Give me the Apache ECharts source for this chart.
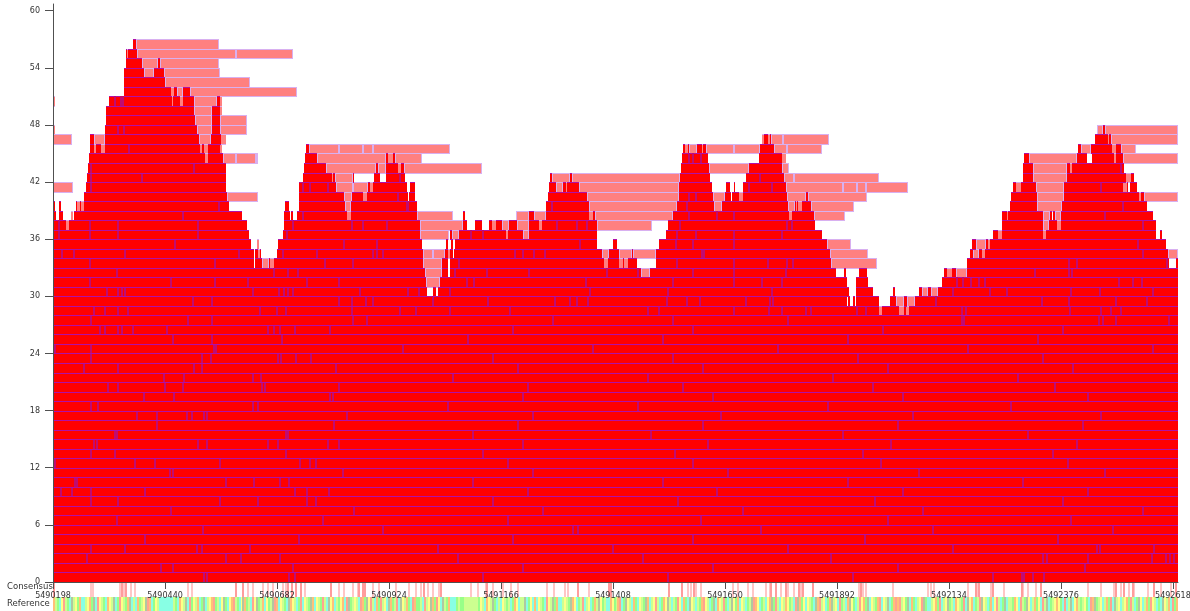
<!DOCTYPE html>
<html>
<head>
<meta charset="utf-8">
<title>Pileup</title>
<script src="https://cdn.jsdelivr.net/npm/echarts@6/dist/echarts.min.js"></script>
<style>
html,body{margin:0;padding:0;background:#fff;}
#main{width:1190px;height:611px;}
</style>
</head>
<body>
<div id="main"></div>
<script>
// genome window and tick values
var chromStart = 5490198;
var chromEnd = 5492629;
var basesPerCol = 2.1607;
var xTicks = [5490198,5490440,5490682,5490924,5491166,5491408,5491650,5491892,5492134,5492376,5492618];
var yTicks = [0,6,12,18,24,30,36,42,48,54,60];
var yMax = 60.7;

// reads per pile row, positions in alignment columns (one col = basesPerCol).
// a run [a,b,c] = two reads a-b and b-c lying end to end
var redRows = [
/*0*/ [[0,151,154,236,242,430,615,800,940,969,971,980,991,1125]],
/*1*/ [[0,108,120,240,470,660,845,1032,1125]],
/*2*/ [[0,34,173,188,227,405,590,778,990,994,1035,1099,1113,1117,1121,1125]],
/*3*/ [[0,38,72,144,149,197,385,560,735,900,1044,1047,1101,1125]],
/*4*/ [[0,92,246,460,640,812,1005,1125]],
/*5*/ [[0,150,330,520,525,708,880,1060,1125]],
/*6*/ [[0,64,270,455,648,835,1018,1125]],
/*7*/ [[0,118,301,490,690,870,1090,1125]],
/*8*/ [[0,38,65,167,205,254,263,440,625,822,1010,1125]],
/*9*/ [[0,8,19,38,92,242,254,276,475,664,850,1035,1125]],
/*10*/ [[0,22,24,173,201,227,236,420,610,795,970,1125]],
/*11*/ [[0,117,120,290,480,675,866,1052,1125]],
/*12*/ [[0,2,82,102,167,247,257,263,455,640,828,1015,1125]],
/*13*/ [[0,38,62,233,430,622,810,1000,1125]],
/*14*/ [[0,41,44,145,154,215,225,275,286,470,655,838,1024,1125]],
/*15*/ [[0,62,64,233,235,420,598,790,975,1125]],
/*16*/ [[0,104,281,465,650,845,1030,1125]],
/*17*/ [[0,84,104,134,139,151,154,294,480,668,860,1048,1125]],
/*18*/ [[0,38,45,200,205,395,585,775,958,1125]],
/*19*/ [[0,91,121,277,280,470,660,850,1035,1125]],
/*20*/ [[0,55,65,112,130,209,212,286,475,630,820,1002,1125]],
/*21*/ [[0,111,131,200,208,400,595,780,965,1125]],
/*22*/ [[0,31,65,141,149,283,465,650,835,1020,1125]],
/*23*/ [[0,38,149,158,225,228,243,258,440,620,805,990,1125]],
/*24*/ [[0,2,38,161,163,350,540,725,915,1100,1125]],
/*25*/ [[0,120,159,229,415,610,795,985,1125]],
/*26*/ [[0,47,52,65,69,80,114,215,221,227,242,277,460,640,830,1010,1125]],
/*27*/ [[0,38,135,159,300,314,500,620,735,909,911,1046,1050,1063,1116,1125]],
/*28*/ [[0,41,52,65,75,207,224,233,299,347,363,397,457,595,606,681,716,729,753,758,804,813,826],[829,846],[851,853],[856,909,913,1017,1048,1058,1068,1125]],
/*29*/ [[0,140,159,286,299,313,320,380,435,502,517,524,535,614,634,647,693,717,720,794],[795,797],[800,802],[803,826],[837,843],[851,854],[862,883,989,1016,1063,1094,1125]],
/*30*/ [[0,54,65,69,72,200,226,231,235,240,307,355,366,374],[380,383],[385,397,537,615,719,796],[803,820],[840,842],[866,869],[875,878],[885,900,937,954,1018,1047,1100,1125]],
/*31*/ [[0,37,118,162,195,254,286,373],[387,414,421,533,620,681,709,729,794],[803,815],[889,904,910,918,926,932,1066,1080,1089,1125]],
/*32*/ [[0,64,221,235,245,372],[389,395],[397,402,434,476,554,585,588],[597,640,681,733,783],[791,793],[806,814],[891,894],[899,903],[914,982,1016,1019,1125]],
/*33*/ [[0,37,162,201],[202,209],[216,217],[221,272,300,370],[389,395],[397,406,551],[555,566],[570,571],[575,584],[603,624,681,715,734,740,778],[914,1016,1024,1114,1116],[1123,1125]],
/*34*/ [[0,9,21,72,186,201],[202,205],[207,208],[224,230,264,320,324,330,370],[392,395],[397,400],[401,462,470,481,492,549],[556,566],[579,580],[603,649,651,777],[917,920],[926,929],[932,1090,1115]],
/*35*/ [[0,122,198],[225,291,324,369],[393,395],[398,400],[402,527,544],[560,564],[606,623,640,681,774],[919,923],[933,935],[937,1085,1113]],
/*36*/ [[0,6,37,65,145,196],[230,234,367],[397,399],[406,418,430,453],[455,470],[476,544],[613,624,643,681,729,769],[940,945],[949,990],[993,1103],[1107,1109]],
/*37*/ [[0,6,13],[16,37,65,145,194],[231,240,299,310,334,367],[410,414],[422,429],[436,439],[443,449],[456,464],[476,486],[489,504,524,534,544],[615,627,734,739,762],[949,990],[996,1004],[1008,1090,1103]],
/*38*/ [[0,3],[6,10],[21,130,189],[231,237],[238,240],[244,250,294],[298,364],[410,412],[476,481],[493,536],[540,542],[620,636,664,681,736],[739,761],[949,954],[955,990],[997,999],[1000,1002],[1008,1052,1100]],
/*39*/ [[1,2],[6,8],[23,24],[27,28],[31,166,176],[232,236],[246,292],[298,354,355,364],[493,499,536],[624,634,661],[669,735],[742,743],[744,745],[749,758],[957,984],[1009,1070,1094]],
/*40*/ [[31,174],[246,291],[299,310],[314,345,355],[356,362],[495,534],[626,636,643,660],[672,678],[679,686],[690,734],[753,755],[958,984],[1011,1086],[1088,1091]],
/*41*/ [[33,38,173],[246,250,257,275,283],[315,317],[320,354],[357,362],[496,503],[510,513],[514,526],[626,659],[673,677],[681,682],[690,696,719,733],[960,963],[968,983],[1011,1048,1070],[1074,1075],[1077,1084]],
/*42*/ [[34,38,89,173],[250,279],[280,282],[300,301],[321,327],[333,347,352],[497,499],[517,519],[627,657],[693,707,731],[970,980],[1014,1073],[1078,1081]],
/*43*/ [[35,38,141,173],[251,273],[323,325],[333,345],[348,351],[628,656],[696,729],[970,980],[1014,1017],[1019,1068,1071]],
/*44*/ [[36,152],[155,170],[252,264],[333,335],[340,342],[629,636,640,648,655],[706,729],[971,976],[1024,1034],[1039,1061],[1063,1070]],
/*45*/ [[37,41],[43,48],[52,76,147],[149,151],[155,167],[253,256],[630,632],[635,636],[644,649],[650,653],[707,721],[1025,1028],[1038,1059],[1063,1068]],
/*46*/ [[37,41],[52,146],[158,168],[711,715],[717,718],[1042,1055],[1056,1058]],
/*47*/ [[52,65,71,144],[159,167],[1050,1052]],
/*48*/ [[53,142],[159,167]],
/*49*/ [[53,141],[159,167]],
/*50*/ [[56,62,68,70,119],[120,127],[130,141],[164,167]],
/*51*/ [[71,118],[121,124],[130,137]],
/*52*/ [[71,112]],
/*53*/ [[71,91],[101,111]],
/*54*/ [[73,89],[105,107]],
/*55*/ [[73,74],[75,84]],
/*56*/ [[80,83]]
];

var pinkRows = {
28: [[826,829],[846,851],[853,856]],
29: [[843,851],[854,862]],
30: [[869,875],[878,885]],
31: [[373,387]],
32: [[372,389],[588,597],[894,899],[903,914]],
33: [[209,216],[217,221],[370,389],[551,555],[566,570],[571,575],[778,824]],
34: [[205,207],[370,380,392],[395,397],[549,556],[566,579],[580,603],[777,815],[920,926],[929,932],[1115,1125]],
35: [[204,206],[774,798],[923,933],[935,937]],
36: [[367,396],[399,406],[453,455],[470,476],[945,949],[990,993]],
37: [[13,16],[367,410],[439,443],[449,456],[464,476],[486,489],[544,599],[990,996],[1004,1008]],
38: [[18,20],[294,298],[364,400],[463,476],[481,493],[536,540],[542,620],[736,739],[761,792],[954,955],[990,997],[1002,1008]],
39: [[24,27],[28,31],[292,298],[536,624],[661,669],[735,742],[743,744],[745,749],[758,801],[984,1009]],
40: [[174,205],[291,299],[310,314],[534,626],[660,672],[686,690],[734,753],[755,814],[984,1011],[1086,1088],[1091,1125]],
41: [[0,20],[283,300,315],[317,320],[503,510],[513,514],[526,626],[733,790,804,813,855],[963,968],[983,1011],[1070,1074]],
42: [[279,280],[282,300],[499,517],[519,627],[731,741,826],[980,1014],[1073,1078]],
43: [[273,323],[325,333],[345,348],[351,429],[656,696],[729,736],[980,1014],[1017,1019]],
44: [[152,155],[170,183,203,205],[264,333],[335,340],[342,369],[729,733],[976,1024],[1061,1063],[1070,1125]],
45: [[41,43],[48,52],[147,149],[151,155],[167,169],[256,286,310,320,397],[632,635],[636,644],[649,650],[653,681,707],[721,734,769],[1028,1038],[1059,1063],[1068,1083]],
46: [[0,19],[41,52],[146,158],[168,173],[709,711],[715,717],[718,730,776],[1055,1056],[1058,1125]],
47: [[0,2],[144,159],[167,194],[1044,1050],[1052,1125]],
48: [[142,159],[167,194]],
49: [[141,159],[167,169]],
50: [[0,2],[119,120],[127,130],[141,164],[167,169]],
51: [[118,121],[124,130],[137,244]],
52: [[112,197]],
53: [[91,101],[111,167]],
54: [[89,105],[107,166]],
55: [[74,75],[84,183,240]],
56: [[83,166]]
};

// consensus track: columns with a mismatch
var consensusLight = [37,39,66,70,77,81,134,138,194,199,209,214,219,229,232,251,285,290,299,304,319,325,342,355,362,367,374,379,385,417,424,432,439,449,457,464,493,500,511,514,535,634,637,642,647,679,684,694,699,712,716,727,734,740,747,805,809,812,839,874,877,880,914,923,937,950,969,974,982,1034,1047,1060,1067,1075,1080,1094,1107,1117];
var consensusStrong = [0,68,72,182,189,234,238,242,247,277,305,309,311,370,387,433,524,555,557,615,628,640,717,722,732,745,749,759,807,922,925,939,968,987,1062,1070,1079,1100,1122];

// reference track, one letter per stripe
var refBasesA = "olgcyslgcklygocclyogkcsylgcoylkcgsylgokclcoglyksocgylccccccclgcoylkcsgylocgkclyosglcykgcyoslgcykoglcsykglocyglksocylgckoylcgscylgkocylgslckyo";
var refBasesB = "clgyocskglylcsogkyslcogslyckoglsckylogcsogglcslykogsycklgocccglgglllllllgylcoylkgclcylglcgoycllkcgycocylgcsylkgocclylgkoycglsclycgolkyglccoyg";
var refBasesC = "loscgkylcogcylgkoclyslcgoyklclgsycogckylclgosylcgkcoylsgclkygocylcglksoycglcyokgslcyloyglcskogycylgckoslycgoklycsglcokygclsyogkcylgoscylkcgos";
var refBasesD = "oslygkcogclyskgcclyogsclykglcoylgsckyocglskylcgocyslcgkcllgoycslgkyclogycslkcglyoygcsclkcyolglygcsokglyclogscklyclyogslcgkyclogsylcgckylocsgo";
var refColors = {g:'#98ff88',l:'#ccff90',c:'#88ffe4',y:'#ffff88',o:'#ffc078',s:'#ffa490',k:'#b0c8a0'};

function posOf(col) {
	return chromStart + col * basesPerCol;
}

// turn the runs into single reads: [start, end, row, leftLine, rightLine]
function buildReads(rows, outerLines) {
	var out = [];
	for (var r in rows) {
		rows[r].forEach(function(run) {
			var wide = run[run.length-1] - run[0] >= 6;
			for (var i=0;i<run.length-1;i++) {
				var left = i>0 ? 1 : (outerLines && wide ? 1 : 0);
				var right = i<run.length-2 ? 1 : (outerLines && wide ? 1 : 0);
				out.push([posOf(run[i]), posOf(run[i+1]), Number(r), left, right]);
			}
		});
	}
	return out;
}

// read borders as 1px rects so they stay crisp
function readRenderer(fill, lineColor, edgeColor) {
	return function(params, api) {
		var a = api.coord([api.value(0), api.value(2)]);
		var b = api.coord([api.value(1), api.value(2)+1]);
		var x0 = Math.round(a[0]), x1 = Math.max(Math.round(b[0]), x0+1);
		var y0 = Math.round(b[1]), y1 = Math.round(a[1]);
		var w = x1-x0, h = y1-y0;
		var kids = [
			{type:'rect', shape:{x:x0,y:y0,width:w,height:h}, style:{fill:fill}},
			{type:'rect', shape:{x:x0,y:y0,width:w,height:1}, style:{fill:lineColor}},
			{type:'rect', shape:{x:x0,y:y1,width:w,height:1}, style:{fill:lineColor}}
		];
		if (api.value(3)) kids.push({type:'rect', shape:{x:x0,y:y0,width:1,height:h}, style:{fill:edgeColor}});
		if (api.value(4)) kids.push({type:'rect', shape:{x:x1-1,y:y0,width:1,height:h}, style:{fill:edgeColor}});
		return {type:'group', children:kids};
	};
}

function trackRenderer(params, api) {
	var a = api.coord([api.value(0), api.value(2)]);
	var b = api.coord([api.value(1), api.value(3)]);
	var x0 = Math.round(a[0]);
	return {type:'rect',
		shape:{x:x0, y:b[1], width:Math.max(Math.round(b[0])-x0,2), height:a[1]-b[1]},
		style:{fill:api.value(4)}};
}

var reads = buildReads(redRows, false);
var pinkReads = buildReads(pinkRows, true);

// tracks share one y scale: reference 0-0.97, consensus 0.97-2
var stripes = [];
consensusLight.forEach(function(c){ stripes.push([posOf(c), posOf(c+1), 0.97, 2, '#ffc6c6']); });
consensusStrong.forEach(function(c){ stripes.push([posOf(c), posOf(c+1), 0.97, 2, '#ff9c9c']); });
var refBases = refBasesA + refBasesB + refBasesC + refBasesD;
var stripeSpan = (chromEnd - chromStart) / refBases.length;
for (var i=0;i<refBases.length;i++) {
	stripes.push([chromStart+i*stripeSpan, chromStart+(i+1)*stripeSpan, 0, 0.97, refColors[refBases[i]]]);
}

var chart = echarts.init(document.getElementById('main'), null, {renderer:'canvas'});
var axisColor = '#505050';
var textFont = {color:'#333', fontSize:8, fontFamily:'DejaVu Sans'};
chart.setOption({
	animation:false,
	backgroundColor:'#fff',
	grid:[
		{left:53, top:4, width:1125, height:578, outerBoundsMode:'none'},
		{left:53, top:582, width:1125, height:29, outerBoundsMode:'none'}
	],
	xAxis:[{
		type:'value', gridIndex:0, min:chromStart, max:chromEnd, z:5,
		splitLine:{show:false},
		axisLine:{lineStyle:{color:axisColor}},
		axisTick:{length:7, lineStyle:{color:axisColor}, customValues:xTicks},
		axisLabel:Object.assign({margin:10, hideOverlap:false, customValues:xTicks, formatter:function(v){return String(v);}}, textFont)
	},{
		type:'value', gridIndex:1, min:chromStart, max:chromEnd, show:false
	}],
	yAxis:[{
		type:'value', gridIndex:0, min:0, max:yMax, z:5,
		splitLine:{show:false},
		axisLine:{show:true, lineStyle:{color:axisColor}},
		axisTick:{show:true, length:8, lineStyle:{color:axisColor}, customValues:yTicks},
		axisLabel:Object.assign({margin:13, customValues:yTicks}, textFont)
	},{
		type:'value', gridIndex:1, min:0, max:2, show:false
	}],
	graphic:[
		{type:'text', x:7, y:587, z:10, style:{text:'Consensus', fill:'#333', font:'8.5px "DejaVu Sans"', textVerticalAlign:'middle'}},
		{type:'text', x:7, y:603.5, z:10, style:{text:'Reference', fill:'#333', font:'8.5px "DejaVu Sans"', textVerticalAlign:'middle'}}
	],
	series:[
		{type:'custom', name:'single', xAxisIndex:0, yAxisIndex:0, data:pinkReads, renderItem:readRenderer('#ff8080','#d8b0f0','#d8b0f0'), encode:{x:[0,1],y:2}, silent:true, z:2},
		{type:'custom', name:'covered', xAxisIndex:0, yAxisIndex:0, data:reads, renderItem:readRenderer('#ff0000','#b010a8','#c00c70'), encode:{x:[0,1],y:2}, silent:true, z:3},
		{type:'custom', name:'tracks', xAxisIndex:1, yAxisIndex:1, data:stripes, renderItem:trackRenderer, encode:{x:[0,1],y:[2,3]}, silent:true, z:1, clip:false}
	]
});
</script>
</body>
</html>
